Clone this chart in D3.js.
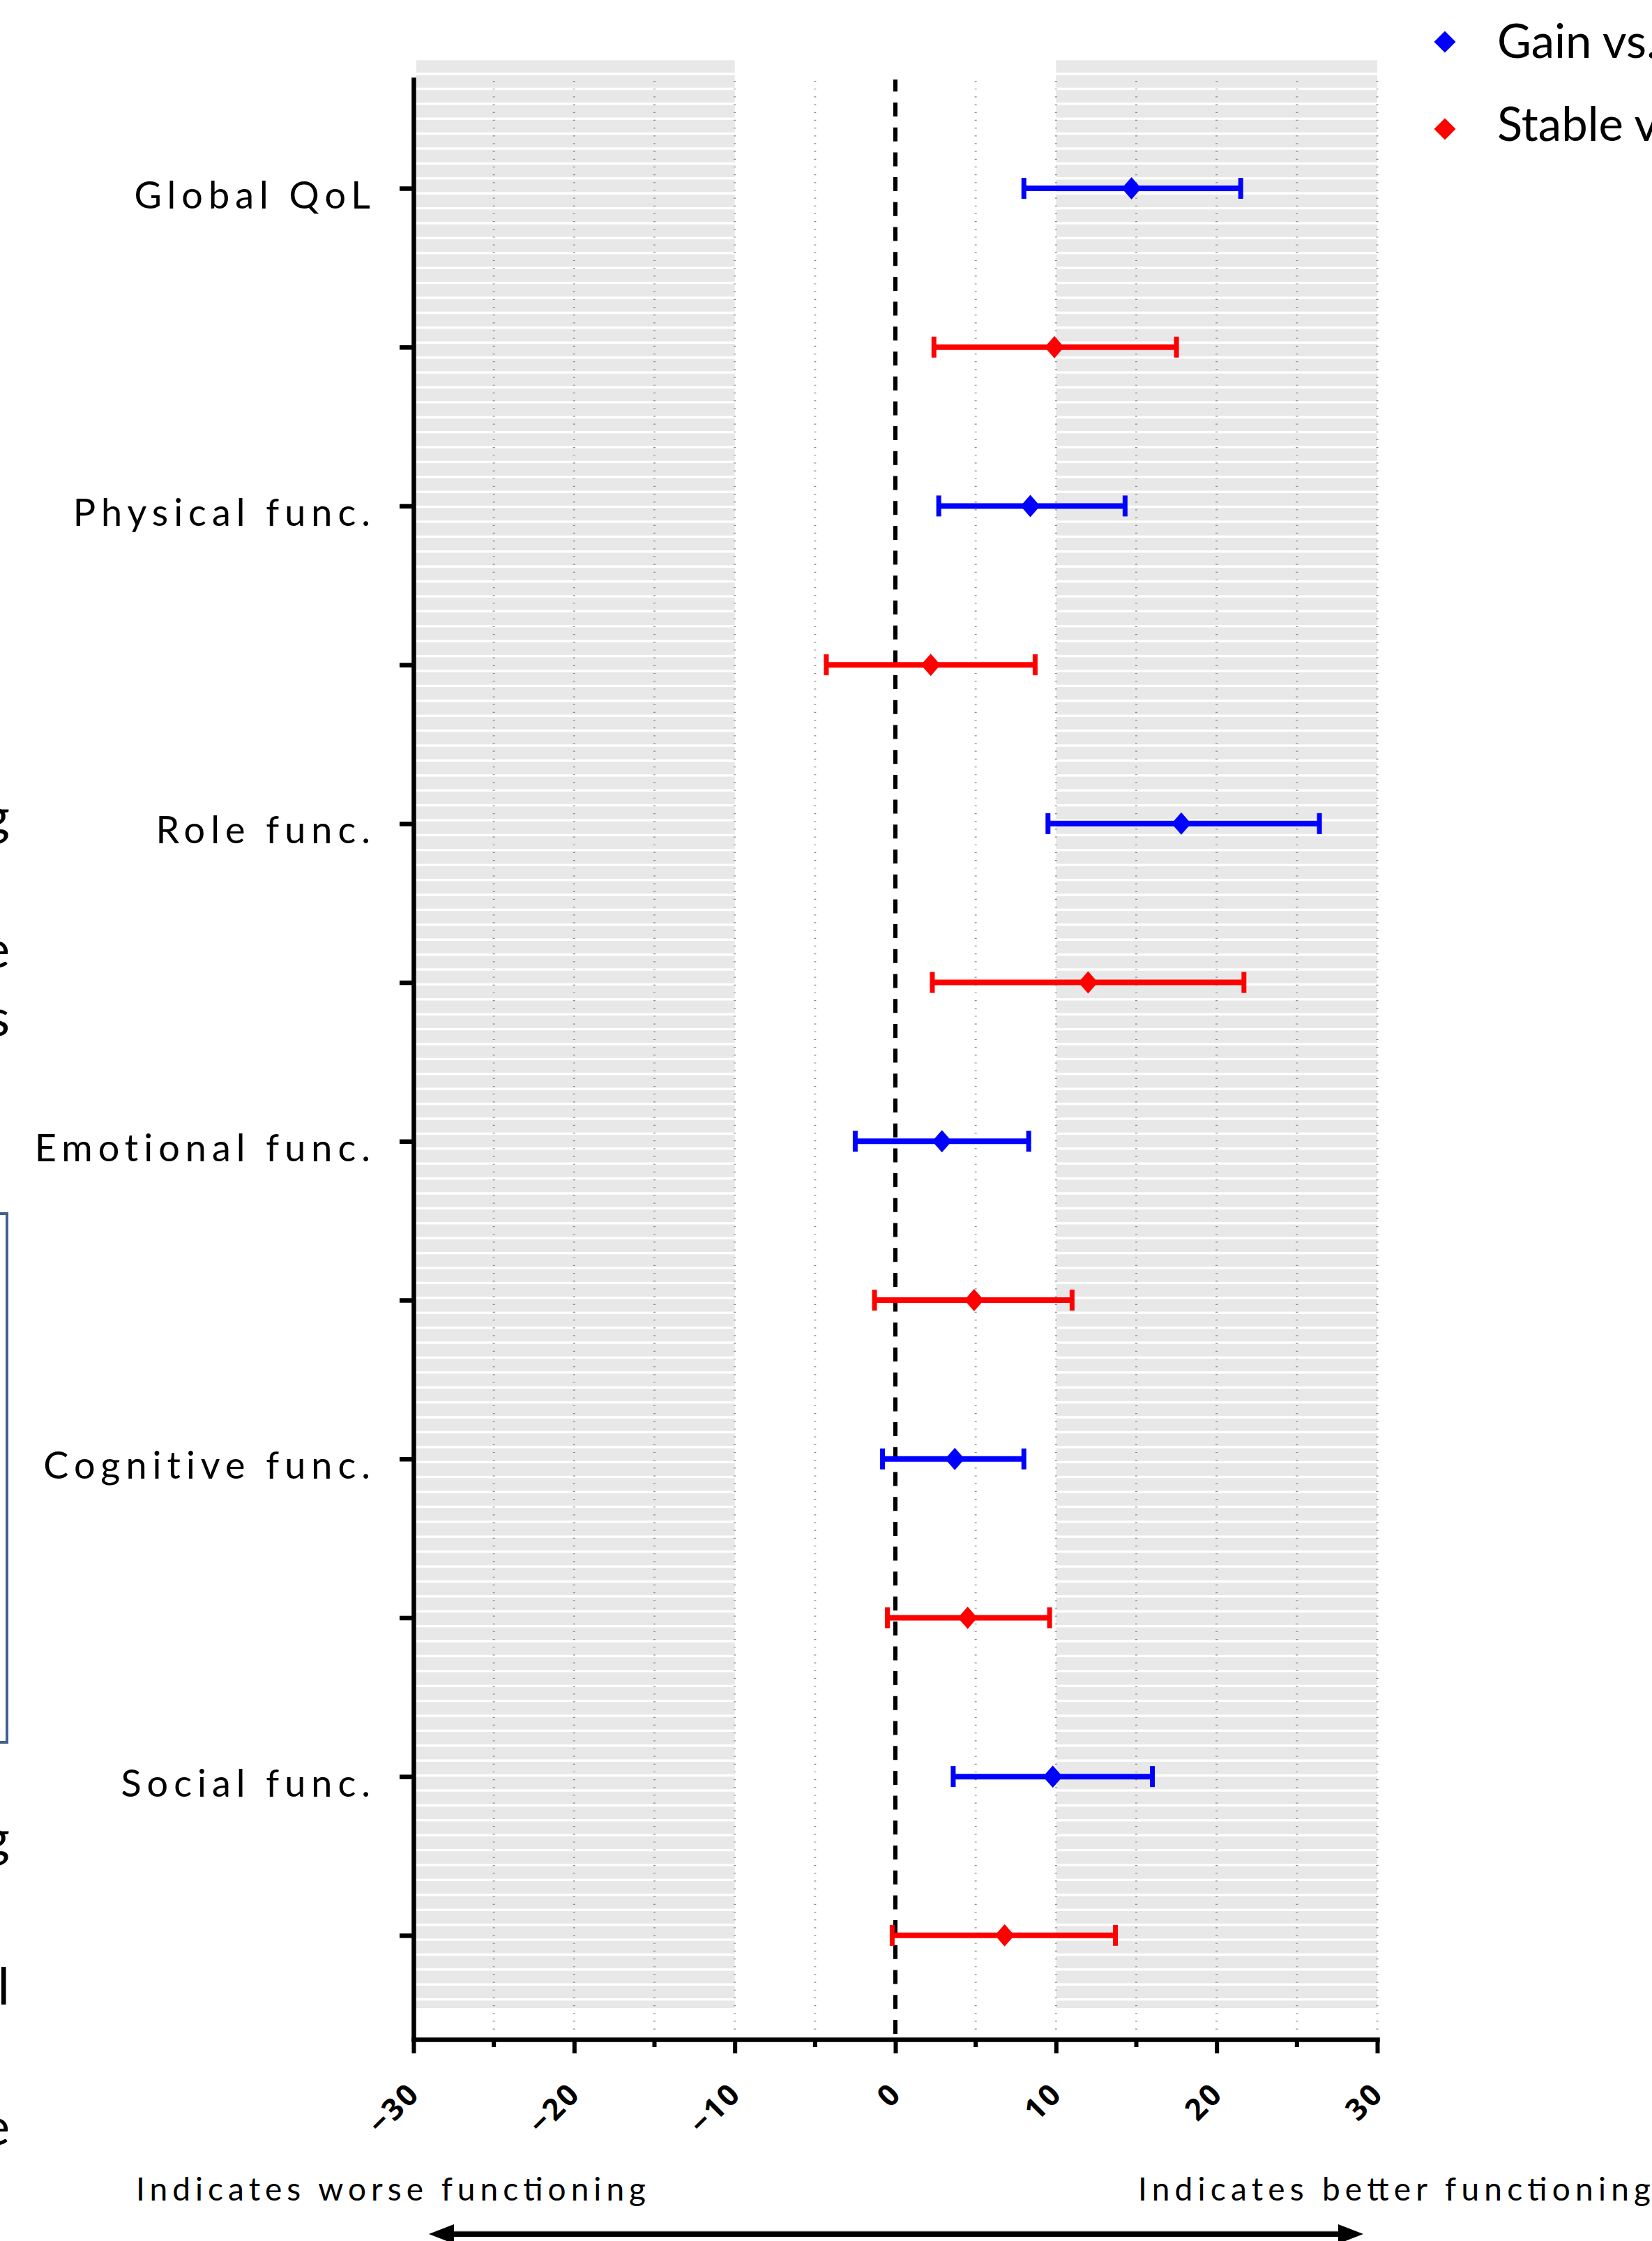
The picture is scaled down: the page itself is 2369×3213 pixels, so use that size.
<!DOCTYPE html>
<html>
<head>
<meta charset="utf-8">
<script src="https://cdn.jsdelivr.net/npm/d3@7"></script>
<style>
  body { margin: 0; background: #fff; }
  text { font-family: Lato, 'Open Sans', sans-serif; fill: #000; }
</style>
</head>
<body>
<div id="chart"></div>
<script>
// --- data ---
const categories = ['Global QoL', 'Physical func.', 'Role func.', 'Emotional func.', 'Cognitive func.', 'Social func.'];
const seriesNames = ['Gain vs. Loss', 'Stable vs. Loss'];
const gainMean = [14.7, 8.4, 17.8, 2.9, 3.7, 9.8];
const gainLow = [8.0, 2.7, 9.5, -2.5, -0.8, 3.6];
const gainHigh = [21.5, 14.3, 26.4, 8.3, 8.0, 16.0];
const stableMean = [9.9, 2.2, 12.0, 4.9, 4.5, 6.8];
const stableLow = [2.4, -4.3, 2.3, -1.3, -0.5, -0.2];
const stableHigh = [17.5, 8.7, 21.7, 11.0, 9.6, 13.7];
const xTicks = [-30, -20, -10, 0, 10, 20, 30];
const xMinorTicks = [-25, -15, -5, 5, 15, 25];
const gridValues = [-25, -20, -15, -10, -5, 5, 10, 15, 20, 25, 30];
const shadeRanges = [[-30, -10], [10, 30]];
const bottomNotes = ['Indicates worse functioning', 'Indicates better functioning'];
const leftFragments = ['g', 'e', 's', 'g', 'l', 'e'];
const colors = ['#0000ff', '#ff0000'];

// --- layout ---
const width = 2369, height = 3213;
const x = d3.scaleLinear().domain([-30, 30]).range([593, 1975]);
const y = d3.scaleLinear().domain([-0.685, 11.655]).range([114, 2924]);
const axisY = y(11.655);

const rows = [];
categories.forEach((c, i) => {
  rows.push({ row: i * 2, mean: gainMean[i], lo: gainLow[i], hi: gainHigh[i], s: 0 });
  rows.push({ row: i * 2 + 1, mean: stableMean[i], lo: stableLow[i], hi: stableHigh[i], s: 1 });
});

const svg = d3.select('#chart').append('svg')
  .attr('width', width)
  .attr('height', height);

// shaded stripes (Prism-like banding)
const bandTops = d3.range(131).map(i => 86.3 + i * 21.4);
const bandBottom = 2879;
shadeRanges.forEach(r => {
  const x0 = r[0] === -30 ? x(r[0]) + 4 : x(r[0]);
  svg.append('g').selectAll('rect')
    .data(bandTops)
    .enter()
    .append('rect')
    .attr('x', x0)
    .attr('width', x(r[1]) - x0)
    .attr('y', d => d)
    .attr('height', d => Math.min(18, bandBottom - d))
    .attr('fill', '#e8e8e8');
});

// dotted vertical grid
svg.append('g').selectAll('line')
  .data(gridValues)
  .enter()
  .append('line')
  .attr('x1', d => x(d))
  .attr('x2', d => x(d))
  .attr('y1', 116)
  .attr('y2', 2918)
  .attr('stroke', '#8a8a8a')
  .attr('stroke-width', 3)
  .attr('stroke-dasharray', '1.2,9.97');

// zero reference line
svg.append('line')
  .attr('x1', x(0)).attr('x2', x(0))
  .attr('y1', 114).attr('y2', 2920)
  .attr('stroke', '#000')
  .attr('stroke-width', 6)
  .attr('stroke-dasharray', '20,15.7')
  .attr('stroke-dashoffset', 2.7);

// x axis
const xAxis = svg.append('g')
  .attr('transform', `translate(0,${axisY})`)
  .call(d3.axisBottom(x).tickValues(xTicks).tickSize(20).tickSizeOuter(0).tickFormat(d3.format('d')));
xAxis.select('.domain').attr('stroke-width', 6.5).attr('stroke-linecap', 'square');
xAxis.selectAll('.tick line').attr('stroke-width', 6);
xAxis.selectAll('.tick text')
  .attr('x', 11)
  .attr('y', 80)
  .attr('dy', 0)
  .attr('text-anchor', 'end')
  .attr('transform', 'rotate(-45, 11, 80)')
  .style('font-family', "'Open Sans', sans-serif")
  .style('font-weight', 'bold')
  .style('font-size', '43px')
  .style('letter-spacing', '3px');

svg.append('g').selectAll('line')
  .data(xMinorTicks)
  .enter()
  .append('line')
  .attr('x1', d => x(d)).attr('x2', d => x(d))
  .attr('y1', axisY).attr('y2', axisY + 11)
  .attr('stroke', '#000')
  .attr('stroke-width', 6);

// y axis
const yAxis = svg.append('g')
  .attr('transform', `translate(${x(-30)},0)`)
  .call(d3.axisLeft(y).tickValues(d3.range(12)).tickSize(20).tickSizeOuter(0)
    .tickFormat(i => i % 2 === 0 ? categories[i / 2] : ''));
yAxis.select('.domain').attr('stroke-width', 6.5).attr('stroke-linecap', 'square');
yAxis.selectAll('.tick line').attr('stroke-width', 6.5);
yAxis.selectAll('.tick text')
  .attr('x', -54)
  .attr('dy', '0.52em')
  .style('font-family', 'Lato, sans-serif')
  .style('font-size', '54px')
  .style('letter-spacing', '8px');

// error bars
const bars = svg.append('g').selectAll('g')
  .data(rows)
  .enter()
  .append('g')
  .attr('stroke', d => colors[d.s])
  .attr('fill', d => colors[d.s]);
bars.append('line')
  .attr('x1', d => x(d.lo)).attr('x2', d => x(d.hi))
  .attr('y1', d => y(d.row)).attr('y2', d => y(d.row))
  .attr('stroke-width', 8);
bars.append('line')
  .attr('x1', d => x(d.lo)).attr('x2', d => x(d.lo))
  .attr('y1', d => y(d.row) - 15).attr('y2', d => y(d.row) + 15)
  .attr('stroke-width', 7);
bars.append('line')
  .attr('x1', d => x(d.hi)).attr('x2', d => x(d.hi))
  .attr('y1', d => y(d.row) - 15).attr('y2', d => y(d.row) + 15)
  .attr('stroke-width', 7);

const diamond = (w, h) => `M0,${-h}L${w},0L0,${h}L${-w},0Z`;
bars.append('path')
  .attr('d', diamond(14, 16))
  .attr('stroke', 'none')
  .attr('transform', d => `translate(${x(d.mean)},${y(d.row)})`);

// legend
const legend = svg.append('g').selectAll('g')
  .data(seriesNames)
  .enter()
  .append('g')
  .attr('transform', (d, i) => `translate(2072,${i === 0 ? 60 : 185})`);
legend.append('path')
  .attr('d', diamond(15.5, 15.5))
  .attr('fill', (d, i) => colors[i]);
legend.append('text')
  .attr('x', 75)
  .attr('y', (d, i) => i === 0 ? 23 : 17)
  .style('font-size', '67px')
  .text(d => d);

// bottom notes + arrow
svg.append('g').selectAll('text')
  .data(bottomNotes)
  .enter()
  .append('text')
  .attr('x', (d, i) => i === 0 ? 195 : 1632)
  .attr('y', 3155)
  .attr('textLength', (d, i) => i === 0 ? 731 : 735)
  .attr('lengthAdjust', 'spacing')
  .style('font-size', '46px')
  .text(d => d);

const arrow = svg.append('g');
arrow.append('line')
  .attr('x1', 650).attr('x2', 1921)
  .attr('y1', 3203).attr('y2', 3203)
  .attr('stroke', '#000').attr('stroke-width', 8);
arrow.append('line')
  .attr('x1', 650).attr('x2', 1921)
  .attr('y1', 3199).attr('y2', 3199)
  .attr('stroke', '#9a9a9a').attr('stroke-width', 1);
arrow.append('path')
  .attr('d', 'M615,3203L651,3189L651,3217Z')
  .attr('fill', '#000');
arrow.append('path')
  .attr('d', 'M1955,3203L1919,3189L1919,3217Z')
  .attr('fill', '#000');

// clipped fragments of neighbouring panel at the left edge
const fragY = [1196, 1387, 1485, 2661, 2874, 3075];
svg.append('g').selectAll('text')
  .data(leftFragments)
  .enter()
  .append('text')
  .attr('x', 14)
  .attr('y', (d, i) => fragY[i])
  .attr('text-anchor', 'end')
  .style('font-size', '74px')
  .text(d => d);
svg.append('rect')
  .attr('x', -20).attr('y', 1740)
  .attr('width', 30).attr('height', 758)
  .attr('fill', 'none')
  .attr('stroke', '#41618f')
  .attr('stroke-width', 4);
</script>
</body>
</html>
